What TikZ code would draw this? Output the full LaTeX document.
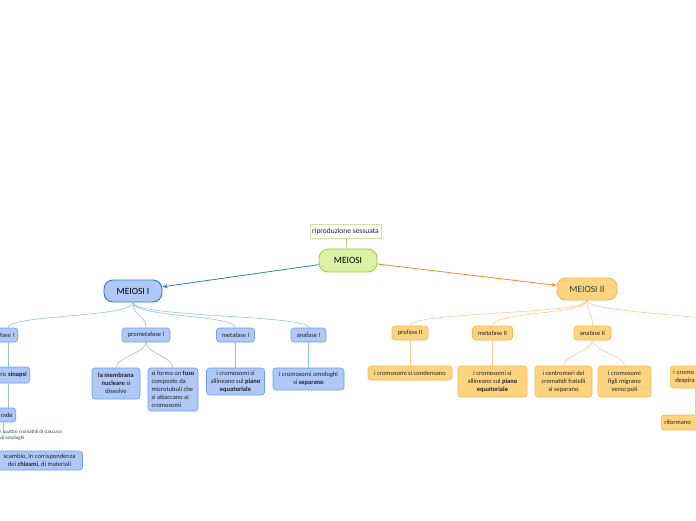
\documentclass[tikz,border=0pt]{standalone}
\usepackage{fontspec}
\setmainfont{Carlito}
\usetikzlibrary{arrows.meta}
\definecolor{bfill}{HTML}{AFC8F7}
\definecolor{bdraw}{HTML}{6AA0E0}
\definecolor{bdark}{HTML}{2A7CC4}
\definecolor{blinkc}{HTML}{8CC3E6}
\definecolor{ofill}{HTML}{FFD480}
\definecolor{odraw}{HTML}{F5B550}
\definecolor{odark}{HTML}{F58A2A}
\definecolor{olinkc}{HTML}{FAC98E}
\definecolor{gfill}{HTML}{DCF2A4}
\definecolor{gdraw}{HTML}{A0CF45}
\definecolor{gpale}{HTML}{CDE6A0}
\definecolor{mtext}{HTML}{1E4A3A}
\definecolor{stext}{HTML}{222222}
\tikzset{
  small/.style={font=\fontsize{6.5}{8}\selectfont, text=stext, align=center,
    inner xsep=3pt, inner ysep=2pt, rounded corners=3pt, line width=0.6pt, minimum height=14pt},
  bbox/.style={small, draw=bdraw, fill=bfill},
  obox/.style={small, draw=odraw, fill=ofill},
  mainbox/.style={font=\fontsize{9.5}{11}\selectfont, rounded corners=9pt,
    line width=0.9pt, minimum height=22pt},
  blink/.style={draw=blinkc, line width=0.6pt},
  olink/.style={draw=olinkc, line width=0.6pt},
  bigarrow/.style={-{Stealth[length=5pt,width=4pt]}, line width=0.8pt},
}
\begin{document}
\begin{tikzpicture}[x=1pt, y=-1pt]
  \useasboundingbox (0,0) rectangle (696,520);
  \clip (0,0) rectangle (696,520);
  % root
  \node[small, font=\fontsize{7.5}{8}\selectfont, inner xsep=1pt, draw=gpale, fill=white, rounded corners=0pt, minimum width=71pt] (rs) at (345.5,231) {riproduzione sessuata};
  \node[mainbox, draw=gdraw, fill=gfill, minimum width=58pt, minimum height=23pt] (m) at (348,260.5) {MEIOSI};
  \node[mainbox, draw=bdark, fill=bfill, minimum width=58pt] (mI) at (133,291) {MEIOSI I};
  \node[mainbox, draw=odraw, fill=ofill, text=mtext, minimum width=60pt] (mII) at (587,289) {MEIOSI II};
  \draw[draw=gdraw, line width=0.6pt] (rs) -- (m);
  \draw[bigarrow, draw=bdark] (m) -- (mI);
  \draw[bigarrow, draw=odark] (m) -- (mII);
  % phases of meiosi I
  \node[bbox, anchor=east, text width=24pt, align=right] (pI) at (18,335) {fase I};
  \node[bbox, minimum width=48pt] (pmI) at (146,335) {prometafase I};
  \node[bbox, minimum width=38pt] (mfI) at (235.5,335) {metafase I};
  \node[bbox, minimum width=35pt] (afI) at (308.5,335) {anafase I};
  \coordinate (lx) at (8,0);
  \coordinate (lxb) at (3,0);
  \foreach \ph in {pI.north -| lx, pmI.north, mfI.north, afI.north}
    \draw[blink] (mI.south) .. controls +(0,15) and +(0,-13) .. (\ph);
  % details of meiosi I
  \node[bbox, anchor=east, text width=34pt, align=right, minimum height=16pt] (sin) at (30,375) {ro \textbf{sinapsi}};
  \node[bbox, anchor=east, text width=20pt, align=right] (tet) at (16,415) {rade};
  \node[font=\fontsize{5}{6}\selectfont, text=mtext, align=left, anchor=north west, inner sep=0pt] (qua) at (0.3,429.5) {i quattro cromatidi di ciascuna\\di omologhi};
  \node[bbox, minimum width=86pt, minimum height=19pt] (sc) at (39.5,460.5) {scambio, in corrispondenza\\dei \textbf{chiasmi}, di materiali};
  \draw[blink] (pI.south -| lx) -- (sin.north -| lx);
  \draw[blink] (sin.south -| lx) -- (tet.north -| lx);
  \draw[blink] (tet.south -| lxb) -- (qua.north -| lxb);
  \node[bbox, minimum width=48pt, minimum height=31pt] (mem) at (116,383.5) {\textbf{la membrana}\\\textbf{nucleare} si\\dissolve};
  \node[bbox, align=left, minimum width=50pt, minimum height=43pt] (fuso) at (173,389.5) {si forma un \textbf{fuso}\\composto da\\microtubuli che\\si attaccano ai\\cromosomi};
  \node[bbox, minimum width=58pt, minimum height=27pt] (cmI) at (235.5,381.5) {i cromosomi si\\allineano sul \textbf{piano}\\\textbf{equatoriale}};
  \node[bbox, minimum width=71pt, minimum height=22pt] (sep) at (308.5,379) {i cromosomi omologhi\\si \textbf{separano}};
  \draw[blink] (pmI.south) .. controls +(0,10) and +(0,-10) .. (mem.north);
  \draw[blink] (pmI.south) .. controls +(0,10) and +(0,-10) .. (fuso.north);
  \draw[blink] (mfI) -- (cmI);
  \draw[blink] (afI) -- (sep);
  % phases of meiosi II
  \node[obox, minimum width=36pt] (pII) at (410,333) {profase II};
  \node[obox, minimum width=40pt] (mfII) at (492.5,333) {metafase II};
  \node[obox, minimum width=37pt] (afII) at (592.5,333) {anafase II};
  \coordinate (tf) at (760,330);
  \foreach \ph in {pII.north, mfII.north, afII.north, tf}
    \draw[olink] (mII.south) .. controls +(0,14) and +(0,-14) .. (\ph);
  % details of meiosi II
  \node[obox, minimum width=84pt] (cond) at (410,373) {i cromosomi si condensano};
  \node[obox, minimum width=69pt, minimum height=31pt] (cmII) at (492.5,381.5) {i cromosomi si\\allineano sul \textbf{piano}\\\textbf{equatoriale}};
  \node[obox, minimum width=57pt, minimum height=31pt] (cen) at (563.5,381.5) {i centromeri dei\\cromatidi fratelli\\si separano};
  \node[obox, minimum width=53pt, minimum height=31pt] (fig) at (624.5,381.5) {i cromosomi\\figli migrano\\verso poli};
  \node[obox, anchor=west, text width=40pt, align=left, minimum height=22pt] (dsp) at (670,377) {i cromo\\\hspace*{2pt}despira};
  \node[obox, anchor=west, text width=45pt, align=left, minimum height=15pt] (rif) at (661,422.5) {riformano};
  \coordinate (rx) at (695,0);
  \draw[olink] (pII) -- (cond);
  \draw[olink] (mfII) -- (cmII);
  \draw[olink] (afII.south) .. controls +(0,10) and +(0,-10) .. (cen.north);
  \draw[olink] (afII.south) .. controls +(0,10) and +(0,-10) .. (fig.north);
  \draw[olink] (dsp.south -| rx) -- (rif.north -| rx);
\end{tikzpicture}
\end{document}
